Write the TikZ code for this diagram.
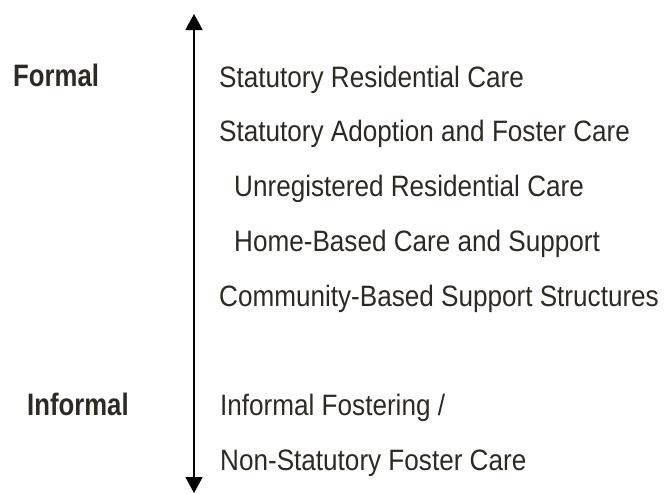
\documentclass[tikz,border=0pt]{standalone}
\usepackage{fontspec}
\usepackage{tikz}
\usetikzlibrary{arrows.meta}
\setmainfont{Liberation Sans}[FakeStretch=0.885]
\definecolor{inktext}{RGB}{45,42,36}

\tikzset{
  caretype/.style={anchor=base west, inner sep=0pt, text=inktext,
    font=\fontsize{29.5}{34}\selectfont},
  levelname/.style={anchor=base west, inner sep=0pt, text=inktext,
    font=\fontsize{31}{36}\selectfont\bfseries\addfontfeature{FakeStretch=0.83}}
}

\begin{document}
\begin{tikzpicture}[x=1pt, y=-1pt]
    \useasboundingbox (0,0) rectangle (664,493);

 % Scale from formal to informal
    \coordinate (top) at (194,14);
    \coordinate (bottom) at (194,493);
    \draw[line width=1.6pt, {Triangle[width=17pt,length=16pt]}-{Triangle[width=17pt,length=16pt]}] (top) -- (bottom);

 % Level labels
    \node[levelname] (formal) at (13,86) {Formal};
    \node[levelname] (informal) at (27,415) {Informal};

 % Types of care
    \node[caretype] (src) at (219,87) {Statutory Residential Care};
    \node[caretype] (sac) at (219,141) {Statutory Adoption and Foster Care};
    \node[caretype] (urc) at (234,196) {Unregistered Residential Care};
    \node[caretype] (hbc) at (234,251) {Home-Based Care and Support};
    \node[caretype] (cbs) at (219,306) {Community-Based Support Structures};
    \node[caretype] (inf) at (220,415) {Informal Fostering /};
    \node[caretype] (nsf) at (220,470) {Non-Statutory Foster Care};

\end{tikzpicture}
\end{document}
